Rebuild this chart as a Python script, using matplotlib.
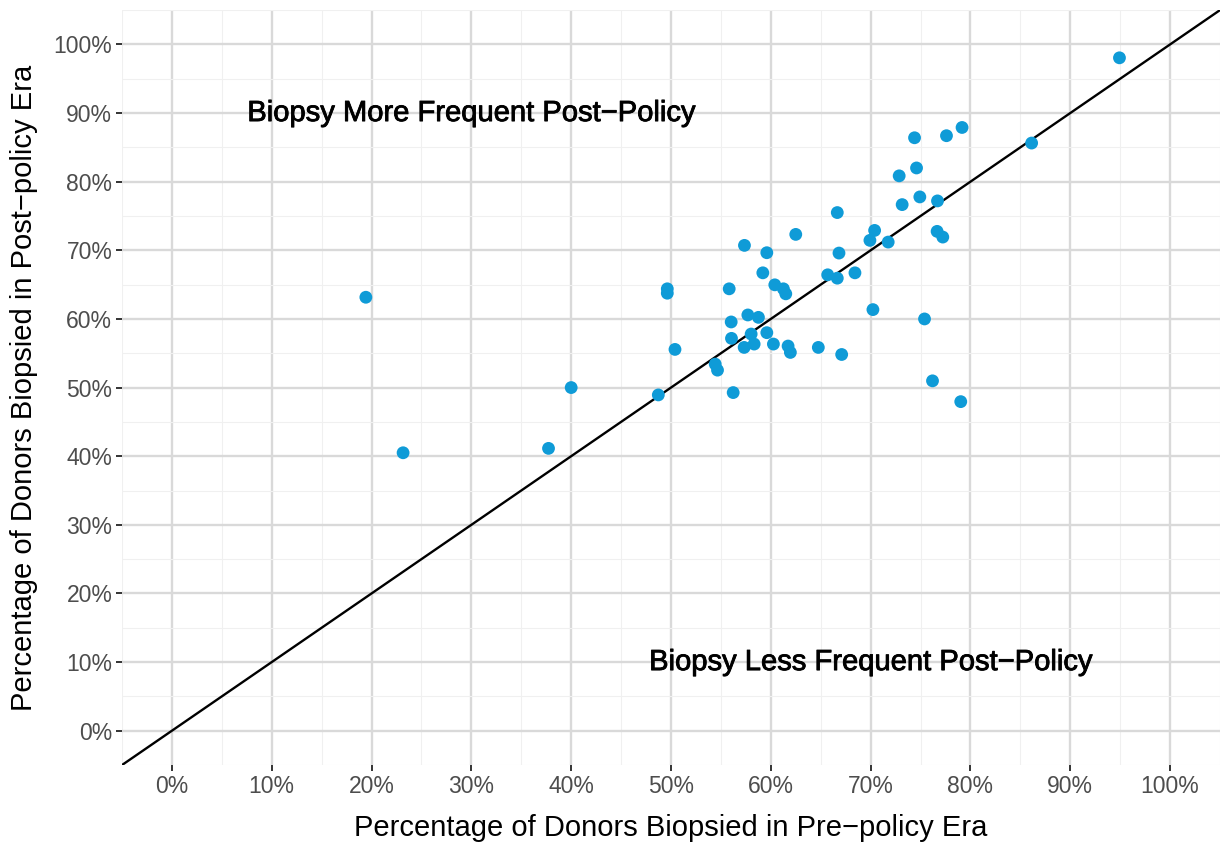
import matplotlib
matplotlib.use("Agg")
import matplotlib.pyplot as plt
import matplotlib.patheffects as pe
import numpy as np

plt.rcParams['font.family'] = ['Liberation Sans', 'DejaVu Sans']

pre_policy = [0.1943, 0.2316, 0.400, 0.3773,
              0.625, 0.704, 0.6993, 0.7176, 0.5736, 0.596, 0.6683, 0.592, 0.657, 0.6666,
              0.6843, 0.4963, 0.4963, 0.5583, 0.604, 0.6126, 0.615, 0.7023, 0.577, 0.5876,
              0.5603, 0.596, 0.5803, 0.5606, 0.5833, 0.5733, 0.6026, 0.6173, 0.6196, 0.6476,
              0.671, 0.504, 0.5443, 0.5466, 0.4873, 0.5623,
              0.7916, 0.776, 0.744, 0.746, 0.7286, 0.7493, 0.7316, 0.767, 0.6666, 0.7666, 0.7723,
              0.754, 0.762, 0.7903, 0.9493, 0.8613]
post_policy = [0.6316, 0.405, 0.500, 0.4114,
               0.7232, 0.729, 0.7145, 0.712, 0.7072, 0.6965, 0.696, 0.6672, 0.6643, 0.6594,
               0.6672, 0.6439, 0.6375, 0.6439, 0.6497, 0.6439, 0.6366, 0.6136, 0.6058, 0.6023,
               0.5956, 0.580, 0.578, 0.5717, 0.5634, 0.5585, 0.5634, 0.5605, 0.5512, 0.5585,
               0.5482, 0.5556, 0.5342, 0.5254, 0.4893, 0.4927,
               0.879, 0.867, 0.864, 0.820, 0.8085, 0.7778, 0.7666, 0.772, 0.755, 0.7276, 0.7193,
               0.600, 0.5098, 0.4795, 0.9805, 0.8563]

ticks = np.round(np.arange(0, 1.01, 0.1), 2)
tick_labels = [f"{int(round(t*100))}%" for t in ticks]
minor_ticks = np.round(np.arange(-0.05, 1.06, 0.1), 2)

fig = plt.figure(figsize=(12.25, 8.43), dpi=100)
ax = fig.add_axes([0.0996, 0.0925, 0.8963, 0.8955])
ax.set_xlim(-0.05, 1.05)
ax.set_ylim(-0.05, 1.05)

ax.set_xticks(ticks)
ax.set_xticklabels(tick_labels)
ax.set_yticks(ticks)
ax.set_yticklabels(tick_labels)
ax.set_xticks(minor_ticks, minor=True)
ax.set_yticks(minor_ticks, minor=True)

ax.grid(which='major', color='#D9D9D9', linewidth=1.7)
ax.grid(which='minor', color='#F0F0F0', linewidth=0.8)
ax.set_axisbelow(True)
for s in ax.spines.values():
    s.set_visible(False)
ax.tick_params(which='major', length=4, width=1.4, color='#333333', labelcolor='#4D4D4D',
               labelsize=16.5, pad=3)
ax.tick_params(which='minor', length=0)

ax.plot([-0.05, 1.05], [-0.05, 1.05], color='black', linewidth=1.7, zorder=2)
ax.scatter(pre_policy, post_policy, s=85, color='#0F9BD7', edgecolors='none', zorder=3)

fx = [pe.withStroke(linewidth=0.6, foreground='black')]
ax.text(0.30, 0.90, "Biopsy More Frequent Post\u2212Policy", ha='center', va='center',
        fontsize=21, color='black', path_effects=fx)
ax.text(0.70, 0.10, "Biopsy Less Frequent Post\u2212Policy", ha='center', va='center',
        fontsize=21, color='black', path_effects=fx)

ax.set_xlabel("Percentage of Donors Biopsied in Pre\u2212policy Era", fontsize=21, labelpad=12)
ax.set_ylabel("Percentage of Donors Biopsied in Post\u2212policy Era", fontsize=21, labelpad=11)

fig.savefig("out.png", dpi=100)
